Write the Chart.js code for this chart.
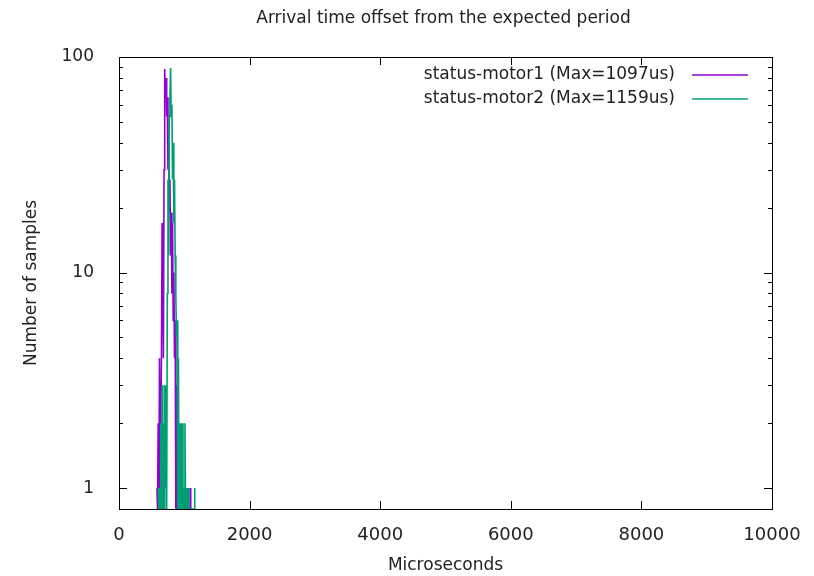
<!DOCTYPE html>
<html>
<head>
<meta charset="utf-8">
<script src="https://cdn.jsdelivr.net/npm/chart.js@4"></script>
<style>
  body { margin: 0; background: #fff; }
</style>
</head>
<body>
<canvas id="myChart" width="814" height="576"></canvas>
<script>
// histogram bins (microseconds) and sample counts
const motor1Us = [580, 590, 600, 610, 620, 630, 640, 650, 660, 670, 680, 690, 700, 710, 720, 730, 740, 750, 760, 770,
  780, 790, 800, 810, 820, 830, 840, 850, 860, 870, 880, 890, 900, 910, 920, 930, 940, 950, 960, 970,
  980, 990, 1000, 1010, 1020, 1030, 1040, 1050, 1060, 1070, 1080, 1090, 1097, 1100];
const motor1Count = [1, 0, 2, 0, 4, 0, 2, 4, 17, 12, 4, 30, 88, 65, 80, 53, 65, 30, 40, 19,
  27, 12, 19, 8, 17, 6, 10, 4, 6, 0, 3, 0, 2, 0, 1, 0, 1, 0, 1, 0,
  0, 1, 0, 1, 0, 1, 0, 0, 1, 0, 0, 0, 1, 0];

const motor2Us = [600, 610, 620, 630, 640, 650, 660, 670, 680, 690, 700, 710, 720, 730, 740, 750, 760, 770, 780, 790,
  800, 810, 820, 830, 840, 850, 860, 870, 880, 890, 900, 910, 920, 930, 940, 950, 960, 970, 980, 990,
  1000, 1010, 1020, 1030, 1040, 1050, 1060, 1070, 1080, 1090, 1100, 1110, 1120, 1130, 1140, 1150, 1159, 1160];
const motor2Count = [1, 0, 1, 0, 2, 0, 3, 0, 2, 0, 3, 1, 3, 0, 8, 27, 12, 53, 65, 89,
  53, 60, 27, 40, 17, 27, 12, 8, 5, 6, 0, 4, 0, 2, 0, 2, 0, 2, 0, 1,
  0, 2, 0, 1, 1, 0, 1, 0, 0, 0, 0, 0, 0, 0, 0, 0, 1, 0];

const chartTitle = 'Arrival time offset from the expected period';
const seriesLabels = ['status-motor1 (Max=1097us)', 'status-motor2 (Max=1159us)'];
const seriesColors = ['#9400d3', '#009e73'];
const xTicks = [0, 2000, 4000, 6000, 8000, 10000];
const yTicks = [1, 10, 100];
const yMinorTicks = [2, 3, 4, 5, 6, 7, 8, 9, 20, 30, 40, 50, 60, 70, 80, 90];

const Y_MIN = 0.8;
const FONT = "'DejaVu Sans', sans-serif";

// empty bins sit on the bottom border, like gnuplot does on a log axis
const toPoints = (xs, ys) => xs.map((v, i) => ({ x: v, y: ys[i] === 0 ? Y_MIN : ys[i] }));

// border box, inward ticks on all four sides, title centred over the plot, legend inside
const frame = {
  id: 'frame',
  afterDraw(chart) {
    const { ctx, chartArea: a, scales: { x, y } } = chart;
    ctx.save();
    ctx.strokeStyle = '#000';
    ctx.lineWidth = 1;
    ctx.beginPath();
    xTicks.forEach(v => {
      const px = Math.round(x.getPixelForValue(v)) + 0.5;
      ctx.moveTo(px, a.bottom); ctx.lineTo(px, a.bottom - 8);
      ctx.moveTo(px, a.top); ctx.lineTo(px, a.top + 8);
    });
    yTicks.concat(yMinorTicks).forEach(v => {
      const len = yTicks.includes(v) ? 8 : 4;
      const py = Math.round(y.getPixelForValue(v)) + 0.5;
      ctx.moveTo(a.left, py); ctx.lineTo(a.left + len, py);
      ctx.moveTo(a.right, py); ctx.lineTo(a.right - len, py);
    });
    ctx.stroke();
    ctx.strokeRect(Math.round(a.left) + 0.5, Math.round(a.top) + 0.5,
      Math.round(a.right - a.left), Math.round(a.bottom - a.top));

    ctx.fillStyle = '#222';
    ctx.font = '17px ' + FONT;
    ctx.textAlign = 'center';
    ctx.textBaseline = 'middle';
    ctx.fillText(chartTitle, (a.left + a.right) / 2 - 2, 19);

    // legend
    ctx.textAlign = 'right';
    seriesLabels.forEach((label, i) => {
      const ly = 75 + i * 24;
      ctx.fillStyle = '#222';
      ctx.fillText(label, 675, ly);
      ctx.strokeStyle = seriesColors[i];
      ctx.lineWidth = 1.4;
      ctx.beginPath();
      ctx.moveTo(692, ly);
      ctx.lineTo(748, ly);
      ctx.stroke();
    });
    ctx.restore();
  }
};

new Chart(document.getElementById('myChart'), {
  type: 'line',
  data: {
    datasets: [
      {
        label: seriesLabels[0],
        data: toPoints(motor1Us, motor1Count),
        borderColor: seriesColors[0],
        borderWidth: 1.6,
        pointRadius: 0,
        tension: 0,
        order: 1
      },
      {
        label: seriesLabels[1],
        data: toPoints(motor2Us, motor2Count),
        borderColor: seriesColors[1],
        borderWidth: 1.6,
        pointRadius: 0,
        tension: 0,
        order: 0
      }
    ]
  },
  options: {
    responsive: false,
    animation: false,
    layout: { padding: { left: 0, right: 42, top: 57, bottom: 0 } },
    plugins: {
      legend: { display: false },
      tooltip: { enabled: false },
      title: { display: false }
    },
    scales: {
      x: {
        type: 'linear',
        min: 0,
        max: 10000,
        grid: { display: false },
        border: { display: false },
        afterBuildTicks: s => { s.ticks = xTicks.map(v => ({ value: v })); },
        afterFit: s => { s.height = 67; },
        ticks: {
          color: '#222',
          font: { family: FONT, size: 18 },
          padding: 8,
          maxRotation: 0,
          autoSkip: false,
          callback: v => String(v)
        },
        title: {
          display: true,
          text: 'Microseconds',
          color: '#222',
          font: { family: FONT, size: 17 },
          padding: { top: -4, bottom: 0 }
        }
      },
      y: {
        type: 'logarithmic',
        min: Y_MIN,
        max: 100,
        grid: { display: false },
        border: { display: false },
        afterBuildTicks: s => { s.ticks = yTicks.map(v => ({ value: v })); },
        afterFit: s => { s.width = 119; },
        ticks: {
          color: '#222',
          font: { family: FONT, size: 17 },
          padding: 17,
          autoSkip: false,
          callback: v => String(v)
        },
        title: {
          display: true,
          text: 'Number of samples',
          color: '#222',
          font: { family: FONT, size: 17 },
          padding: { top: 21, bottom: 0 }
        }
      }
    }
  },
  plugins: [frame]
});
</script>
</body>
</html>
